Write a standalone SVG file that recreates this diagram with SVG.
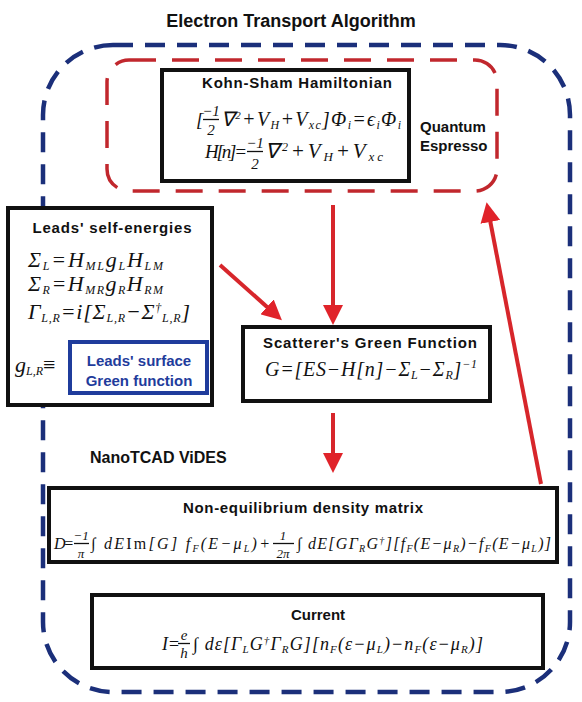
<svg xmlns="http://www.w3.org/2000/svg" width="582" height="702" viewBox="0 0 582 702">
<style>
.t{font-family:"Liberation Sans",Arial,sans-serif;font-weight:bold;fill:#111}
.m{font-family:"Liberation Serif","Times New Roman",serif;font-style:italic;fill:#111}
.box{fill:#fff;stroke:#111;stroke-width:4}
.bar{stroke:#111;stroke-width:1.3}
.arr{stroke:#d7262b;stroke-width:4;fill:none;marker-end:url(#ah)}
</style>
<defs>
<marker id="ah" viewBox="0 0 20 20" markerWidth="20" markerHeight="20" markerUnits="userSpaceOnUse" refX="2" refY="10" orient="auto">
<path d="M0,0 L20,10 L0,20 z" fill="#e0232a"/>
</marker>
</defs>
<rect width="582" height="702" fill="#fff"/>

<g id="title">
<text class="t" x="291" y="27" font-size="18" text-anchor="middle">Electron Transport Algorithm</text>
</g>

<g id="nanotcad-region">
<rect x="43" y="45" width="527" height="647" rx="70" fill="none" stroke="#1b2f7a" stroke-width="4.5" stroke-dasharray="20 12"/>
<text class="t" x="90" y="463" font-size="16">NanoTCAD ViDES</text>
</g>

<g id="quantum-espresso">
<rect x="107" y="60" width="390" height="131" rx="22" fill="none" stroke="#c1272d" stroke-width="3.5" stroke-dasharray="27 16"/>
<text class="t" x="420" y="132" font-size="15">Quantum</text>
<text class="t" x="420" y="151" font-size="15">Espresso</text>
</g>

<g id="kohn-sham">
<rect class="box" x="162" y="70" width="247" height="111"/>
<text class="t" x="297" y="88" font-size="15" text-anchor="middle" textLength="190">Kohn-Sham Hamiltonian</text>
<text class="m" x="196" y="126" font-size="19" font-style="normal">[</text>
<text class="m" x="211" y="116" font-size="15" text-anchor="middle" font-style="normal">−1</text>
<line class="bar" x1="203" y1="119.5" x2="219" y2="119.5"/>
<text class="m" x="211" y="135" font-size="15" text-anchor="middle" font-style="normal">2</text>
<text class="m" x="221" y="126" font-size="20" textLength="180">∇<tspan dy="-7" font-size="11">2</tspan><tspan dy="7">+V</tspan><tspan dy="3" font-size="12">H</tspan><tspan dy="-3">+V</tspan><tspan dy="3" font-size="12">xc</tspan><tspan dy="-3">]Φ</tspan><tspan dy="3" font-size="12">i</tspan><tspan dy="-3">=ϵ</tspan><tspan dy="3" font-size="12">i</tspan><tspan dy="-3">Φ</tspan><tspan dy="3" font-size="12">i</tspan></text>
<text class="m" x="205" y="158" font-size="19" textLength="42">H[n]=</text>
<text class="m" x="255" y="148" font-size="15" text-anchor="middle" font-style="normal">−1</text>
<line class="bar" x1="247" y1="151.5" x2="263" y2="151.5"/>
<text class="m" x="255" y="169" font-size="15" text-anchor="middle" font-style="normal">2</text>
<text class="m" x="265" y="158" font-size="21" textLength="118">∇<tspan dy="-7" font-size="12">2</tspan><tspan dy="7">+V</tspan><tspan dy="3" font-size="13">H</tspan><tspan dy="-3">+V</tspan><tspan dy="3" font-size="13">xc</tspan></text>
</g>

<g id="leads-self-energies">
<rect class="box" x="8" y="208" width="204" height="197"/>
<text class="t" x="112" y="233" font-size="15" text-anchor="middle" textLength="159">Leads' self-energies</text>
<text class="m" x="28" y="267" font-size="22" textLength="135">Σ<tspan dy="3" font-size="12">L</tspan><tspan dy="-3">=H</tspan><tspan dy="3" font-size="12">ML</tspan><tspan dy="-3">g</tspan><tspan dy="3" font-size="12">L</tspan><tspan dy="-3">H</tspan><tspan dy="3" font-size="12">LM</tspan></text>
<text class="m" x="28" y="291" font-size="22" textLength="135">Σ<tspan dy="3" font-size="12">R</tspan><tspan dy="-3">=H</tspan><tspan dy="3" font-size="12">MR</tspan><tspan dy="-3">g</tspan><tspan dy="3" font-size="12">R</tspan><tspan dy="-3">H</tspan><tspan dy="3" font-size="12">RM</tspan></text>
<text class="m" x="28" y="319" font-size="22" textLength="162">Γ<tspan dy="3" font-size="12">L,R</tspan><tspan dy="-3">=i[Σ</tspan><tspan dy="3" font-size="12">L,R</tspan><tspan dy="-3">−Σ</tspan><tspan dy="-7" font-size="12">†</tspan><tspan dy="10" font-size="12">L,R</tspan><tspan dy="-3">]</tspan></text>
<text class="m" x="15" y="372" font-size="22">g<tspan dy="3" font-size="12">L,R</tspan><tspan dy="-3" font-style="normal">≡</tspan></text>
<rect x="70" y="342" width="137" height="51" fill="#fff" stroke="#1f3c9c" stroke-width="4"/>
<text class="t" x="139" y="366" font-size="15" text-anchor="middle" style="fill:#1f3c9c">Leads' surface</text>
<text class="t" x="139" y="386" font-size="15" text-anchor="middle" style="fill:#1f3c9c">Green function</text>
</g>

<g id="scatterer-green-function">
<rect class="box" x="243" y="327" width="247" height="74"/>
<text class="t" x="370" y="348" font-size="15" text-anchor="middle" textLength="214">Scatterer's Green Function</text>
<text class="m" x="265" y="376" font-size="20" textLength="212">G=[ES−H[n]−Σ<tspan dy="3" font-size="12">L</tspan><tspan dy="-3">−Σ</tspan><tspan dy="3" font-size="12">R</tspan><tspan dy="-3">]</tspan><tspan dy="-8" font-size="12">−1</tspan></text>
</g>

<g id="density-matrix">
<rect class="box" x="49" y="488" width="508" height="74"/>
<text class="t" x="303" y="513" font-size="15" text-anchor="middle" textLength="240">Non-equilibrium density matrix</text>
<text class="m" x="54" y="549" font-size="16" textLength="20">D=</text>
<text class="m" x="81" y="540" font-size="13" text-anchor="middle" font-style="normal">−1</text>
<line class="bar" x1="74" y1="543.5" x2="89" y2="543.5"/>
<text class="m" x="81" y="558" font-size="13" text-anchor="middle">π</text>
<text class="m" x="91" y="549" font-size="16" textLength="179"><tspan font-style="normal">∫</tspan> dE<tspan font-style="normal">Im</tspan>[G] f<tspan dy="3" font-size="10">F</tspan><tspan dy="-3">(E−μ</tspan><tspan dy="3" font-size="10">L</tspan><tspan dy="-3">)+</tspan></text>
<text class="m" x="283" y="540" font-size="13" text-anchor="middle" font-style="normal">1</text>
<line class="bar" x1="273" y1="543.5" x2="294" y2="543.5"/>
<text class="m" x="283" y="558" font-size="13" text-anchor="middle">2π</text>
<text class="m" x="297" y="549" font-size="16" textLength="254"><tspan font-style="normal">∫</tspan> dE[GΓ<tspan dy="3" font-size="10">R</tspan><tspan dy="-3">G</tspan><tspan dy="-5" font-size="10">†</tspan><tspan dy="5">][f</tspan><tspan dy="3" font-size="10">F</tspan><tspan dy="-3">(E−μ</tspan><tspan dy="3" font-size="10">R</tspan><tspan dy="-3">)−f</tspan><tspan dy="3" font-size="10">F</tspan><tspan dy="-3">(E−μ</tspan><tspan dy="3" font-size="10">L</tspan><tspan dy="-3">)]</tspan></text>
</g>

<g id="current">
<rect class="box" x="92" y="595" width="451" height="73"/>
<text class="t" x="318" y="620" font-size="15" text-anchor="middle">Current</text>
<text class="m" x="162" y="650" font-size="18" textLength="18">I=</text>
<text class="m" x="184" y="640" font-size="15" text-anchor="middle">e</text>
<line class="bar" x1="178" y1="643.5" x2="190" y2="643.5"/>
<text class="m" x="184" y="658" font-size="15" text-anchor="middle">h</text>
<text class="m" x="193" y="650" font-size="18" textLength="290"><tspan font-style="normal">∫</tspan> dε[Γ<tspan dy="3" font-size="11">L</tspan><tspan dy="-3">G</tspan><tspan dy="-6" font-size="11">†</tspan><tspan dy="6">Γ</tspan><tspan dy="3" font-size="11">R</tspan><tspan dy="-3">G][n</tspan><tspan dy="3" font-size="11">F</tspan><tspan dy="-3">(ε−μ</tspan><tspan dy="3" font-size="11">L</tspan><tspan dy="-3">)−n</tspan><tspan dy="3" font-size="11">F</tspan><tspan dy="-3">(ε−μ</tspan><tspan dy="3" font-size="11">R</tspan><tspan dy="-3">)]</tspan></text>
</g>

<g id="connectors">
<line class="arr" x1="333" y1="205" x2="333" y2="307"/>
<line class="arr" x1="220" y1="265" x2="268.5" y2="308.2"/>
<line class="arr" x1="333" y1="413" x2="333" y2="455"/>
<line class="arr" x1="541" y1="484" x2="490" y2="220"/>
</g>
</svg>
